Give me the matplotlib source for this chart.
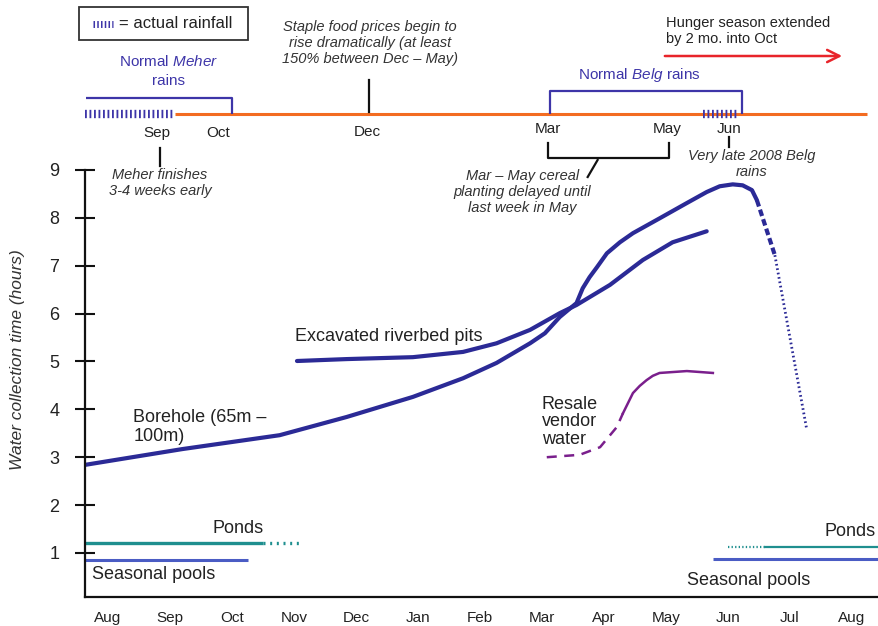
import matplotlib
matplotlib.use("Agg")
import matplotlib.pyplot as plt
from matplotlib.patches import Rectangle

plt.rcParams["font.family"] = ["Liberation Sans", "DejaVu Sans"]
plt.rcParams["mathtext.fontset"] = "custom"
plt.rcParams["mathtext.rm"] = "Liberation Sans"
plt.rcParams["mathtext.it"] = "Liberation Sans:italic"

# x = months since August (Aug=0 ... next Aug=12), y = hours
months = ["Aug", "Sep", "Oct", "Nov", "Dec", "Jan", "Feb",
          "Mar", "Apr", "May", "Jun", "Jul", "Aug"]
hour_ticks = [1, 2, 3, 4, 5, 6, 7, 8, 9]

borehole_x = [-0.37, 1.2, 2.77, 3.85, 4.92, 5.73, 6.27, 6.81, 7.05, 7.29, 7.42,
              7.56, 7.66, 7.77, 7.89, 8.05, 8.26, 8.47, 8.90, 9.34, 9.66,
              9.87, 10.08, 10.24, 10.39, 10.47]
borehole_y = [2.84, 3.17, 3.46, 3.84, 4.26, 4.65, 4.97, 5.38, 5.59, 5.93, 6.07,
              6.22, 6.53, 6.76, 6.97, 7.26, 7.49, 7.68, 7.99, 8.31, 8.54,
              8.66, 8.70, 8.68, 8.58, 8.37]
borehole_dash_x = [10.47, 10.76]
borehole_dash_y = [8.37, 7.22]
borehole_dot_x = [10.76, 11.27]
borehole_dot_y = [7.22, 3.61]

pits_x = [3.05, 3.85, 4.92, 5.73, 6.27, 6.81, 7.29, 7.56, 8.10, 8.63, 9.11, 9.66]
pits_y = [5.01, 5.05, 5.09, 5.20, 5.38, 5.66, 6.01, 6.18, 6.60, 7.12, 7.49, 7.72]

resale_dash_x = [7.08, 7.61, 7.94, 8.21, 8.31]
resale_dash_y = [3.00, 3.05, 3.21, 3.63, 3.92]
resale_x = [8.31, 8.39, 8.47, 8.58, 8.69, 8.79, 8.90, 9.34, 9.76]
resale_y = [3.92, 4.13, 4.34, 4.49, 4.61, 4.70, 4.76, 4.80, 4.76]

ponds_left_x = [-0.37, 2.50]
ponds_left_dot_x = [2.50, 3.15]
ponds_left_y = 1.20
ponds_right_dot_x = [10.0, 10.6]
ponds_right_x = [10.6, 12.44]
ponds_right_y = 1.13

pools_left_x = [-0.37, 2.26]
pools_left_y = 0.85
pools_right_x = [9.76, 12.44]
pools_right_y = 0.87

CURVE = "#2b2a96"
PONDS = "#1f8f8f"
POOLS = "#4a5cc4"
RESALE = "#7a1f8c"
ORANGE = "#f36c21"
RED = "#e8242a"
BRACKET = "#3d35a8"
TXT = "#222222"

W, H = 879, 626
fig = plt.figure(figsize=(W / 100, H / 100), dpi=100)
ax = fig.add_axes([85 / W, 1 - 597 / H, 794 / W, 427 / H])
XLIM = (-0.37, 12.44)
ax.set_xlim(*XLIM)
ax.set_ylim(0.08, 9.0)

ax.plot(borehole_x, borehole_y, color=CURVE, lw=3, solid_capstyle="round", solid_joinstyle="round")
ax.plot(borehole_dash_x, borehole_dash_y, color=CURVE, lw=3, dashes=(1.6, 0.8))
ax.plot(borehole_dot_x, borehole_dot_y, color=CURVE, lw=2, linestyle=(0, (0.6, 1.0)))
ax.plot(pits_x, pits_y, color=CURVE, lw=3, solid_capstyle="round", solid_joinstyle="round")
ax.plot(resale_dash_x, resale_dash_y, color=RESALE, lw=1.8, dashes=(4, 3))
ax.plot(resale_x, resale_y, color=RESALE, lw=1.8, solid_joinstyle="round")

ax.plot(ponds_left_x, [ponds_left_y] * 2, color=PONDS, lw=2.4, solid_capstyle="butt")
ax.plot(ponds_left_dot_x, [ponds_left_y] * 2, color=PONDS, lw=2.4, linestyle=(2, (0.6, 1.4)))
ax.plot(ponds_right_dot_x, [ponds_right_y] * 2, color=PONDS, lw=1.6, linestyle=(0, (0.6, 1.0)))
ax.plot(ponds_right_x, [ponds_right_y] * 2, color=PONDS, lw=1.6, clip_on=False)
ax.plot(pools_left_x, [pools_left_y] * 2, color=POOLS, lw=2.2, solid_capstyle="butt")
ax.plot(pools_right_x, [pools_right_y] * 2, color=POOLS, lw=2.2, solid_capstyle="butt", clip_on=False)

# series labels
lab = dict(color=TXT, fontsize=13)
ax.text(0.41, 3.64, "Borehole (65m –\n100m)", va="center", ha="left", linespacing=1.15, **lab)
ax.text(3.02, 5.53, "Excavated riverbed pits", va="center", ha="left", **lab)
ax.text(7.0, 3.74, "Resale\nvendor\nwater", va="center", ha="left", linespacing=1.05, **lab)
ax.text(1.69, 1.52, "Ponds", va="center", ha="left", **lab)
ax.text(-0.26, 0.55, "Seasonal pools", va="center", ha="left", **lab)
ax.text(11.56, 1.44, "Ponds", va="center", ha="left", **lab)
ax.text(9.34, 0.43, "Seasonal pools", va="center", ha="left", **lab)

ax.spines[["top", "right"]].set_visible(False)
for s in ("left", "bottom"):
    ax.spines[s].set_linewidth(1.6)
    ax.spines[s].set_color("#111111")
ax.set_yticks(hour_ticks)
ax.set_yticklabels([str(v) for v in hour_ticks])
ax.tick_params(axis="y", direction="inout", length=15, width=1.5, pad=11,
               labelsize=13, labelcolor=TXT, color="#111111")
ax.set_xticks(range(len(months)))
ax.set_xticklabels(months)
ax.tick_params(axis="x", length=0, pad=10, labelsize=11, labelcolor=TXT)
ax.set_ylabel("Water collection time (hours)", fontsize=12.5, style="italic", color="#333333")
ax.yaxis.set_label_coords(-0.076, 0.555)

# ---- seasonal timeline above the plot (x in months, y in pixels from top)
top = fig.add_axes([85 / W, 1 - 170 / H, 794 / W, 170 / H])
top.set_xlim(*XLIM)
top.set_ylim(170, 0)
top.axis("off")

line = dict(clip_on=False, solid_capstyle="butt")
top.plot([1.08, 12.24], [114, 114], color=ORANGE, lw=2.2, **line)
rain = dict(color=BRACKET, lw=6, linestyle=(0, (0.22, 0.32)), clip_on=False)
top.plot([-0.37, 1.08], [114, 114], **rain)
top.plot([9.6, 10.16], [114, 114], **rain)

top.plot([-0.35, 2.0, 2.0], [98, 98, 114], color=BRACKET, lw=1.6, **line)
top.plot([7.13, 7.13, 10.23, 10.23], [114, 91, 91, 114], color=BRACKET, lw=1.6, **line)
top.text(0.98, 62, r"Normal $\mathit{Meher}$", ha="center", va="center", color=BRACKET, fontsize=11)
top.text(0.98, 81, "rains", ha="center", va="center", color=BRACKET, fontsize=11)
top.text(8.58, 75, r"Normal $\mathit{Belg}$ rains", ha="center", va="center", color=BRACKET, fontsize=11)

for name, xm, yp in [("Sep", 0.79, 133), ("Oct", 1.77, 133), ("Dec", 4.18, 132),
                     ("Mar", 7.10, 129), ("May", 9.03, 129), ("Jun", 10.02, 129)]:
    top.text(xm, yp, name, ha="center", va="center", color=TXT, fontsize=11)

tick = dict(color="#111111", lw=1.6, clip_on=False)
top.plot([0.84, 0.84], [148, 166], **tick)
top.plot([4.21, 4.21], [80, 112], **tick)
top.plot([10.02, 10.02], [137, 147], **tick)
top.plot([7.10, 7.10, 9.05, 9.05], [143, 158, 158, 143], **tick)
top.plot([7.90, 7.74], [160, 177], **tick)

note = dict(ha="center", va="center", style="italic", color="#333333", fontsize=10.5, linespacing=1.15)
top.text(0.84, 183, "Meher finishes\n3-4 weeks early", **note)
top.text(4.23, 43, "Staple food prices begin to\nrise dramatically (at least\n150% between Dec – May)", **note)
top.text(6.69, 192, "Mar – May cereal\nplanting delayed until\nlast week in May", **note)
top.text(10.39, 164, "Very late 2008 Belg\nrains", **note)

top.text(9.0, 31, "Hunger season extended\nby 2 mo. into Oct", ha="left", va="center",
         color=TXT, fontsize=10.5, linespacing=1.1)
top.annotate("", xy=(11.89, 56), xytext=(8.94, 56),
             arrowprops=dict(arrowstyle="->", color=RED, lw=1.8, mutation_scale=22),
             annotation_clip=False)

# legend box
top.add_patch(Rectangle((-0.47, 7), 2.73, 33, fill=False, edgecolor="#333333", lw=1.3, clip_on=False))
top.plot([-0.24, 0.08], [24, 24], color=BRACKET, lw=5, linestyle=(0, (0.22, 0.32)), clip_on=False)
top.text(0.18, 24, "= actual rainfall", ha="left", va="center", color=TXT, fontsize=12)

fig.savefig("out.png", dpi=100)
